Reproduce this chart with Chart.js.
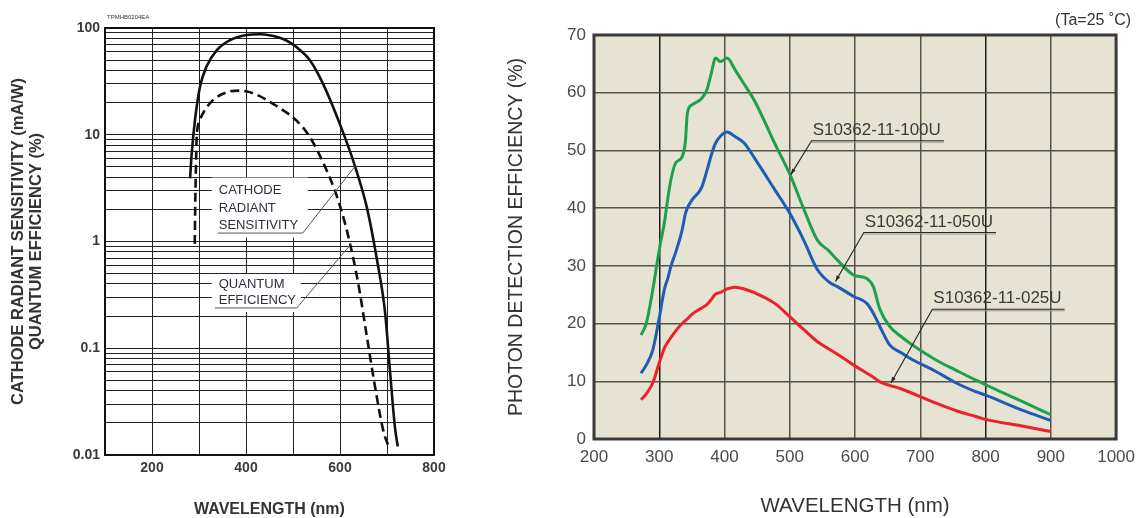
<!DOCTYPE html>
<html><head><meta charset="utf-8">
<script src="https://cdn.jsdelivr.net/npm/chart.js@4.4.1/dist/chart.umd.min.js"></script>
<style>
html,body{margin:0;padding:0;background:#fff;width:1143px;height:518px;overflow:hidden}
#c1{position:absolute;left:0;top:0}
#c2{position:absolute;left:500px;top:0}
</style></head><body>
<canvas id="c1" width="460" height="518"></canvas>
<canvas id="c2" width="643" height="518"></canvas>
<script>
// ---------- LEFT PANEL DATA (photocathode) ----------
const pcWavelengthSens = [281, 284.5, 291.5, 302, 316, 338, 366, 401, 430, 472, 494, 508, 536, 564, 600, 632, 657, 678, 696, 706, 717, 723];
const pcSensitivity    = [3.9, 6.7, 13.8, 28, 43.5, 62, 77, 86, 87.5, 81, 73, 66, 50, 30, 12.5, 5.06, 2.1, 0.7, 0.215, 0.064, 0.018, 0.012];
const pcWavelengthQE   = [291, 292, 293.5, 295, 302, 312.7, 330, 359, 387, 400, 422.6, 465, 508, 536, 564, 589, 603, 621, 639, 657, 674, 692, 705];
const pcQuantumEff     = [0.95, 2.2, 5, 9.2, 13.8, 17.1, 21.2, 25, 25.9, 25.5, 23.7, 18.6, 13.5, 9.5, 5.5, 3.0, 1.95, 0.97, 0.4, 0.13, 0.045, 0.017, 0.0115];
const pcXTicks      = [100, 200, 300, 400, 500, 600, 700, 800];
const pcXTickLabels = ['', '200', '', '400', '', '600', '', '800'];
const pcYTicks = [0.01,0.02,0.03,0.04,0.05,0.06,0.07,0.08,0.09,
                  0.1,0.2,0.3,0.4,0.5,0.6,0.7,0.8,0.9,
                  1,2,3,4,5,6,7,8,9,
                  10,20,30,40,50,60,70,80,90,100];
const pcYDecades      = [0.01, 0.1, 1, 10, 100];
const pcYDecadeLabels = ['0.01', '0.1', '1', '10', '100'];
const pcNoteSens   = ['CATHODE', 'RADIANT', 'SENSITIVITY'];
const pcNoteQE     = ['QUANTUM', 'EFFICIENCY'];
const pcNoteSensAt = [342, 3.0];   // label anchor (nm, value)
const pcNoteSensTo = [632, 5.06];  // leader end on curve
const pcNoteQEAt   = [342, 0.40];
const pcNoteQETo   = [622, 0.93];

// ---------- RIGHT PANEL DATA (MPPC PDE) ----------
const pdeWavelength = [272, 280, 290, 300, 308, 313, 318, 325, 335, 340, 343, 350, 365, 373, 380, 386, 394, 404, 416, 430, 447, 477, 500, 522, 542, 560, 573, 598, 618, 628, 638, 653, 670, 684, 724, 755, 785, 800, 856, 900];
const pde100U = [18.0, 20.0, 25.8, 32.8, 37.6, 41.6, 45.0, 47.8, 48.9, 51.5, 56.4, 57.9, 59.0, 60.5, 63.5, 66.0, 65.4, 66.0, 64.0, 61.5, 58.4, 51.2, 45.9, 39.7, 34.5, 32.6, 31.0, 28.4, 27.8, 26.4, 22.5, 19.5, 17.8, 16.6, 13.7, 11.9, 10.2, 9.4, 6.5, 4.2];
const pde050U = [11.4, 12.8, 15.4, 21.0, 26.0, 27.8, 30.0, 32.3, 36.2, 39.0, 40.0, 41.4, 43.6, 46.5, 49.3, 51.2, 52.5, 53.2, 52.4, 51.3, 48.5, 43.2, 39.1, 34.3, 29.4, 27.2, 26.4, 24.7, 23.5, 21.8, 19.5, 16.3, 15.0, 14.0, 11.7, 9.7, 8.2, 7.6, 5.0, 3.2];
const pde025U = [6.8, 7.8, 9.7, 13.2, 15.8, 16.8, 17.6, 18.7, 20.0, 20.5, 20.8, 21.6, 22.7, 23.3, 24.2, 25.1, 25.4, 26.0, 26.3, 26.0, 25.3, 23.5, 21.2, 18.9, 16.9, 15.6, 14.7, 12.8, 11.4, 10.7, 9.9, 9.3, 8.7, 8.1, 6.2, 4.9, 3.9, 3.4, 2.25, 1.3];
const pdeSeriesNames = ['S10362-11-100U', 'S10362-11-050U', 'S10362-11-025U'];
const pdeXTicks      = [200, 300, 400, 500, 600, 700, 800, 900, 1000];
const pdeXTickLabels = ['200', '300', '400', '500', '600', '700', '800', '900', '1000'];
const pdeYTicks      = [0, 10, 20, 30, 40, 50, 60, 70];
const pdeYTickLabels = ['0', '10', '20', '30', '40', '50', '60', '70'];
// label anchors (nm, %) and leader ends (nm, %)
const pdeNoteAt = [[535, 53.5], [615, 37.6], [720, 24.3]];
const pdeNoteTo = [[501.5, 45.8], [570, 27.3], [655, 9.7]];

const FONT = '"Liberation Sans", Arial, Helvetica, sans-serif';

// ---------- LEFT PANEL ----------
const leftDeco = {
  id: 'leftDeco',
  beforeDatasetsDraw(chart) {
    const {ctx, scales: {x, y}} = chart;
    const sx = x.getPixelForValue(pcNoteSensAt[0]), sy = y.getPixelForValue(pcNoteSensAt[1]);
    const qx = x.getPixelForValue(pcNoteQEAt[0]),   qy = y.getPixelForValue(pcNoteQEAt[1]);
    ctx.save();
    ctx.fillStyle = '#fff';
    ctx.fillRect(sx - 7, sy - 13, 96, 60);
    ctx.fillRect(qx - 7, qy - 10, 89, 38);
    ctx.restore();
  },
  afterDatasetsDraw(chart) {
    const {ctx, scales: {x, y}} = chart;
    ctx.save();
    ctx.font = '13px ' + FONT;
    ctx.fillStyle = '#2d2f3c';
    ctx.textBaseline = 'middle';
    ctx.textAlign = 'left';
    const sx = x.getPixelForValue(pcNoteSensAt[0]), sy = y.getPixelForValue(pcNoteSensAt[1]);
    pcNoteSens.forEach((t, i) => ctx.fillText(t, sx, sy + i * 17.5));
    const qx = x.getPixelForValue(pcNoteQEAt[0]), qy = y.getPixelForValue(pcNoteQEAt[1]);
    pcNoteQE.forEach((t, i) => ctx.fillText(t, qx, qy + i * 16));
    ctx.strokeStyle = '#555';
    ctx.lineWidth = 1;
    let uy = sy + 42.5, ux0 = sx - 1, ux1 = sx + 84;
    ctx.beginPath();
    ctx.moveTo(ux0, uy); ctx.lineTo(ux1, uy);
    ctx.lineTo(x.getPixelForValue(pcNoteSensTo[0]), y.getPixelForValue(pcNoteSensTo[1]));
    ctx.stroke();
    uy = qy + 24; ux0 = qx - 4; ux1 = qx + 78;
    ctx.beginPath();
    ctx.moveTo(ux0, uy); ctx.lineTo(ux1, uy);
    ctx.lineTo(x.getPixelForValue(pcNoteQETo[0]), y.getPixelForValue(pcNoteQETo[1]));
    ctx.stroke();
    ctx.restore();
  },
  afterDraw(chart) {
    const {ctx, chartArea: a} = chart;
    ctx.save();
    ctx.strokeStyle = '#111';
    ctx.lineWidth = 2;
    ctx.strokeRect(a.left, a.top, a.right - a.left, a.bottom - a.top);
    ctx.font = '6px ' + FONT;
    ctx.fillStyle = '#333';
    ctx.textBaseline = 'middle';
    ctx.fillText('TPMHB0204EA', a.left + 2, a.top - 11);
    ctx.restore();
  }
};

new Chart(document.getElementById('c1'), {
  type: 'line',
  data: {
    datasets: [
      { label: 'CATHODE RADIANT SENSITIVITY',
        data: pcWavelengthSens.map((w, i) => ({x: w, y: pcSensitivity[i]})),
        borderColor: '#111', borderWidth: 2.6, pointRadius: 0, fill: false,
        cubicInterpolationMode: 'monotone' },
      { label: 'QUANTUM EFFICIENCY',
        data: pcWavelengthQE.map((w, i) => ({x: w, y: pcQuantumEff[i]})),
        borderColor: '#111', borderWidth: 2.6, borderDash: [9, 5], pointRadius: 0, fill: false,
        cubicInterpolationMode: 'monotone' }
    ]
  },
  options: {
    responsive: false, animation: false, devicePixelRatio: 1,
    layout: { padding: { left: 0, right: 26, top: 28, bottom: 0 } },
    plugins: { legend: { display: false }, tooltip: { enabled: false } },
    scales: {
      x: {
        type: 'linear', min: 100, max: 800,
        afterFit(s) { s.height = 63; },
        afterBuildTicks(s) { s.ticks = pcXTicks.map(v => ({value: v})); },
        grid: { color: '#222', lineWidth: 1, drawTicks: false },
        border: { display: false },
        ticks: { autoSkip: false, maxRotation: 0, padding: 5, color: '#3a3a3a',
                 font: { family: FONT, size: 14, weight: 'bold' },
                 callback: (v, i) => pcXTickLabels[i] },
        title: { display: true, text: 'WAVELENGTH (nm)', color: '#333',
                 font: { family: FONT, size: 16, weight: 'bold', lineHeight: 1 },
                 padding: { top: 0, bottom: 0 } }
      },
      y: {
        type: 'logarithmic', min: 0.01, max: 100,
        afterFit(s) { s.width = 105; },
        afterBuildTicks(s) { s.ticks = pcYTicks.map(v => ({value: v})); },
        grid: { color: '#222', lineWidth: 1, drawTicks: false },
        border: { display: false },
        ticks: { autoSkip: false, padding: 5, color: '#3a3a3a',
                 font: { family: FONT, size: 14, weight: 'bold' },
                 callback: (v) => { const k = pcYDecades.indexOf(v); return k >= 0 ? pcYDecadeLabels[k] : ''; } },
        title: { display: true,
                 text: ['CATHODE RADIANT SENSITIVITY (mA/W)', 'QUANTUM EFFICIENCY (%)'],
                 color: '#333',
                 font: { family: FONT, size: 16.5, weight: 'bold', lineHeight: '18px' },
                 padding: { top: 9, bottom: 0 } }
      }
    }
  },
  plugins: [leftDeco]
});

// ---------- RIGHT PANEL ----------
const rightDeco = {
  id: 'rightDeco',
  beforeDraw(chart) {
    const {ctx, chartArea: a} = chart;
    ctx.save();
    ctx.fillStyle = '#e6e3d3';
    ctx.fillRect(a.left, a.top, a.right - a.left, a.bottom - a.top);
    ctx.restore();
  },
  afterDatasetsDraw(chart) {
    const {ctx, scales: {x, y}} = chart;
    ctx.save();
    ctx.font = '17px ' + FONT;
    ctx.textBaseline = 'middle';
    ctx.textAlign = 'left';
    pdeSeriesNames.forEach((name, i) => {
      const tx = x.getPixelForValue(pdeNoteAt[i][0]);
      const ty = y.getPixelForValue(pdeNoteAt[i][1]);
      const w = ctx.measureText(name).width;
      ctx.fillStyle = '#3a3a3a';
      ctx.fillText(name, tx, ty);
      const uy = ty + 10.5;
      const ex = x.getPixelForValue(pdeNoteTo[i][0]);
      const ey = y.getPixelForValue(pdeNoteTo[i][1]);
      ctx.strokeStyle = '#9a978a';
      ctx.lineWidth = 1;
      ctx.beginPath(); ctx.moveTo(tx - 1, uy + 1.5); ctx.lineTo(tx + w + 3, uy + 1.5); ctx.stroke();
      ctx.strokeStyle = '#2a2a2a';
      ctx.lineWidth = 1.2;
      ctx.beginPath(); ctx.moveTo(tx + w + 3, uy); ctx.lineTo(tx - 1, uy); ctx.lineTo(ex, ey); ctx.stroke();
      const ang = Math.atan2(ey - uy, ex - (tx - 1));
      ctx.fillStyle = '#2a2a2a';
      ctx.beginPath();
      ctx.moveTo(ex, ey);
      ctx.lineTo(ex - 6 * Math.cos(ang) + 2 * Math.sin(ang), ey - 6 * Math.sin(ang) - 2 * Math.cos(ang));
      ctx.lineTo(ex - 6 * Math.cos(ang) - 2 * Math.sin(ang), ey - 6 * Math.sin(ang) + 2 * Math.cos(ang));
      ctx.closePath(); ctx.fill();
    });
    ctx.restore();
  },
  afterDraw(chart) {
    const {ctx, chartArea: a} = chart;
    ctx.save();
    ctx.strokeStyle = '#3a3a3a';
    ctx.lineWidth = 3;
    ctx.strokeRect(a.left, a.top, a.right - a.left, a.bottom - a.top);
    ctx.font = '16px ' + FONT;
    ctx.fillStyle = '#333';
    ctx.textAlign = 'right';
    ctx.textBaseline = 'middle';
    ctx.fillText('(Ta=25 \u02DAC)', a.right + 15, 21);
    ctx.restore();
  }
};

const gridColor = (c) => {
  const v = c.tick ? c.tick.value : null;
  return (v === 300 || v === 800) ? '#1c1c1c' : '#55534c';
};

new Chart(document.getElementById('c2'), {
  type: 'line',
  data: {
    datasets: [
      { label: pdeSeriesNames[0], data: pdeWavelength.map((w, i) => ({x: w, y: pde100U[i]})),
        borderColor: '#1fa14c', borderWidth: 3, pointRadius: 0, fill: false, cubicInterpolationMode: 'monotone' },
      { label: pdeSeriesNames[1], data: pdeWavelength.map((w, i) => ({x: w, y: pde050U[i]})),
        borderColor: '#1f5db5', borderWidth: 3, pointRadius: 0, fill: false, cubicInterpolationMode: 'monotone' },
      { label: pdeSeriesNames[2], data: pdeWavelength.map((w, i) => ({x: w, y: pde025U[i]})),
        borderColor: '#ea2229', borderWidth: 3, pointRadius: 0, fill: false, cubicInterpolationMode: 'monotone' }
    ]
  },
  options: {
    responsive: false, animation: false, devicePixelRatio: 1,
    layout: { padding: { left: 0, right: 21, top: 35, bottom: 0 } },
    plugins: { legend: { display: false }, tooltip: { enabled: false } },
    scales: {
      x: {
        type: 'linear', min: 200, max: 1000,
        afterFit(s) { s.height = 79; },
        afterBuildTicks(s) { s.ticks = pdeXTicks.map(v => ({value: v})); },
        grid: { color: gridColor, lineWidth: 1.5, drawTicks: false },
        border: { display: false },
        ticks: { autoSkip: false, maxRotation: 0, padding: 8, color: '#4a4a4a',
                 font: { family: FONT, size: 17 },
                 callback: (v, i) => pdeXTickLabels[i] },
        title: { display: true, text: 'WAVELENGTH (nm)', color: '#333',
                 font: { family: FONT, size: 20.5, lineHeight: 1.1 },
                 padding: { top: 0, bottom: 0 } }
      },
      y: {
        type: 'linear', min: 0, max: 70,
        afterFit(s) { s.width = 94; },
        afterBuildTicks(s) { s.ticks = pdeYTicks.map(v => ({value: v})); },
        grid: { color: '#55534c', lineWidth: 1.5, drawTicks: false },
        border: { display: false },
        ticks: { autoSkip: false, padding: 8, color: '#4a4a4a',
                 font: { family: FONT, size: 17 },
                 callback: (v, i) => pdeYTickLabels[i] },
        title: { display: true, text: 'PHOTON DETECTION EFFICIENCY (%)', color: '#333',
                 font: { family: FONT, size: 19.5, lineHeight: 1.2 },
                 padding: { top: 5, bottom: 0 } }
      }
    }
  },
  plugins: [rightDeco]
});
</script>
</body></html>
